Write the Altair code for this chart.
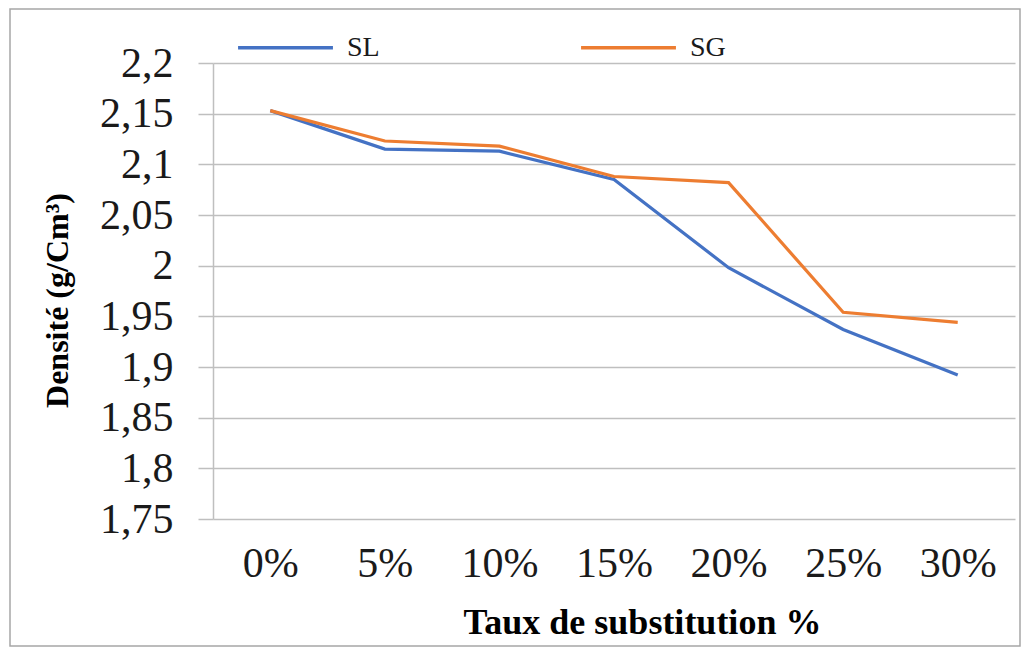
import altair as alt
import pandas as pd

categories = ["0%", "5%", "10%", "15%", "20%", "25%", "30%"]
sl_values = [2.153, 2.115, 2.113, 2.085, 1.998, 1.937, 1.892]
sg_values = [2.153, 2.123, 2.118, 2.088, 2.082, 1.954, 1.944]
series_names = ["SL", "SG"]
series_colors = ["#4472C4", "#ED7D31"]
y_ticks = [1.75, 1.8, 1.85, 1.9, 1.95, 2.0, 2.05, 2.1, 2.15, 2.2]

rows = []
for c, v in zip(categories, sl_values):
    rows.append({"taux": c, "densite": v, "serie": "SL"})
for c, v in zip(categories, sg_values):
    rows.append({"taux": c, "densite": v, "serie": "SG"})
df = pd.DataFrame(rows)

FONT = "Times New Roman"
GRID = "#bfbfbf"

lines = alt.Chart(df).mark_line(strokeWidth=3.2).encode(
    x=alt.X(
        "taux:N",
        sort=categories,
        scale=alt.Scale(paddingInner=0, paddingOuter=0.5),
        axis=alt.Axis(
            title="Taux de substitution %",
            labelAngle=0,
            labelFont=FONT,
            labelFontSize=42,
            labelColor="#1a1a1a",
            labelPadding=24,
            ticks=False,
            domain=False,
            grid=False,
            titleFont=FONT,
            titleFontSize=36,
            titleFontWeight="bold",
            titleColor="#000000",
            titleX=429,
            titleY=114,
            titleAlign="center",
            titleBaseline="alphabetic",
        ),
    ),
    y=alt.Y(
        "densite:Q",
        scale=alt.Scale(domain=[1.75, 2.2], nice=False, zero=False),
        axis=alt.Axis(
            title="Densité (g/Cm³)",
            values=y_ticks,
            labelExpr="replace(format(datum.value, '~g'), '.', ',')",
            labelFont=FONT,
            labelFontSize=42,
            labelColor="#1a1a1a",
            labelPadding=25,
            tickSize=15,
            tickColor=GRID,
            tickWidth=1.5,
            grid=True,
            gridColor=GRID,
            gridWidth=1.5,
            domain=True,
            domainColor=GRID,
            domainWidth=1.5,
            titleFont=FONT,
            titleFontSize=32,
            titleFontWeight="bold",
            titleColor="#000000",
            titleAngle=270,
            titleX=-146,
            titleY=237,
            titleAlign="center",
            titleBaseline="alphabetic",
        ),
    ),
    color=alt.Color(
        "serie:N",
        sort=series_names,
        scale=alt.Scale(domain=series_names, range=series_colors),
        legend=alt.Legend(
            title=None,
            orient="none",
            direction="horizontal",
            legendX=23,
            legendY=-65,
            symbolType="stroke",
            symbolSize=9000,
            symbolStrokeWidth=3.5,
            labelFont=FONT,
            labelFontSize=28,
            labelColor="#1a1a1a",
            labelOffset=12,
            columnPadding=194,
        ),
    ),
)

frame = alt.Chart(pd.DataFrame({"a": [0]})).mark_rect(
    fillOpacity=0, stroke="#a6a6a6", strokeWidth=1.5
).encode(
    x=alt.value(-203), x2=alt.value(807), y=alt.value(-54), y2=alt.value(583)
)

chart = (
    alt.layer(frame, lines)
    .properties(
        width=802,
        height=456,
        autosize=alt.AutoSizeParams(type="none"),
        padding={"left": 205, "top": 55, "right": 7, "bottom": 129},
    )
    .configure(background="white", font=FONT)
    .configure_axis(labelFont=FONT, titleFont=FONT)
    .configure_legend(labelFont=FONT)
    .configure_view(stroke=None)
)

chart.save("out.html", embed_options={"renderer": "svg", "actions": False})
